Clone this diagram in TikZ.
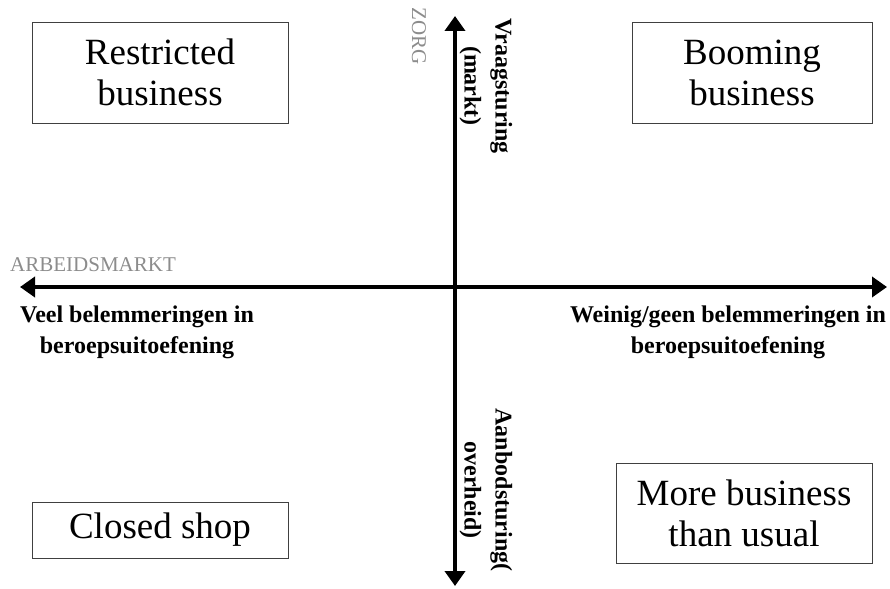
\documentclass[tikz,border=0pt]{standalone}
\usepackage{fontspec}
\setmainfont{Liberation Serif}
\usetikzlibrary{arrows.meta}
\definecolor{axisgray}{HTML}{8C8C8C}
\tikzset{
  quadbox/.style={draw=black!75, line width=0.8pt, align=center, inner sep=0pt,
    font=\fontsize{37}{41}\selectfont},
  axislabel/.style={align=center, inner sep=0pt, font=\fontsize{24}{31}\selectfont\bfseries},
  axisname/.style={inner sep=0pt, text=axisgray, font=\fontsize{21}{24}\selectfont},
  axisline/.style={line width=4pt, {Triangle[width=20pt,length=15pt]}-{Triangle[width=20pt,length=15pt]}}
}
\begin{document}
\begin{tikzpicture}[x=1pt,y=-1pt]
\useasboundingbox (0,0) rectangle (890,588);
\coordinate (L) at (20,287);
\coordinate (R) at (887,287);
\coordinate (T) at (455,16);
\coordinate (B) at (455,586);
\draw[axisline] (L) -- (R);
\draw[axisline] (T) -- (B);

\node[quadbox, minimum width=256pt, minimum height=101pt] (rb) at (160,72.5) {Restricted\\business};
\node[quadbox, minimum width=240pt, minimum height=101pt] (bb) at (752,72.5) {Booming\\business};
\node[quadbox, minimum width=256pt, minimum height=56pt] (cs) at (160,530) {Closed shop};
\node[quadbox, minimum width=256pt, minimum height=100pt] (mb) at (744,513) {More business\\than usual};

\node[axislabel] (veel) at (137,332) {Veel belemmeringen in\\beroepsuitoefening};
\node[axislabel] (weinig) at (728,332) {Weinig/geen belemmeringen in\\beroepsuitoefening};
\node[axislabel, rotate=-90] (vraag) at (486,86) {Vraagsturing\\(markt)};
\node[axislabel, rotate=-90] (aanbod) at (486,490) {Aanbodsturing(\\overheid)};

\node[axisname, rotate=-90] (zorg) at (419,36) {ZORG};
\node[axisname, anchor=west] (arbeid) at (10,265) {ARBEIDSMARKT};
\end{tikzpicture}
\end{document}
